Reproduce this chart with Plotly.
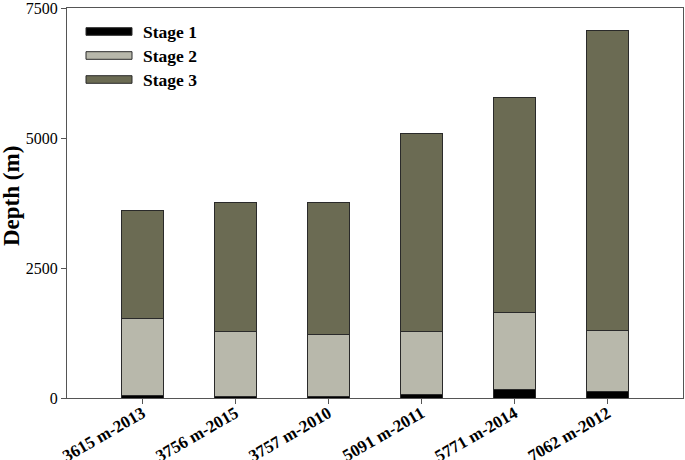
import plotly.graph_objects as go

categories = ["3615 m-2013", "3756 m-2015", "3757 m-2010", "5091 m-2011", "5771 m-2014", "7062 m-2012"]
stage1 = [45, 30, 35, 65, 160, 130]
stage2 = [1475, 1245, 1195, 1210, 1475, 1170]
stage3 = [2095, 2481, 2527, 3816, 4136, 5762]
series_names = ["Stage 1", "Stage 2", "Stage 3"]
colors = ["#000000", "#b8b8ab", "#6b6b53"]
y_ticks = [0, 2500, 5000, 7500]

FONT = "Liberation Serif, Times New Roman, serif"

fig = go.Figure()
for name, vals, col in zip(series_names, [stage1, stage2, stage3], colors):
    fig.add_trace(go.Bar(
        x=list(range(len(categories))), y=vals, name=name,
        marker=dict(color=col, line=dict(color="#2a2a2a", width=1)),
        width=0.45, showlegend=False,
    ))

# manual legend (wide swatches like the reference)
for i, (name, col) in enumerate(zip(series_names, colors)):
    yc = 1 - (31.5 + 24 * i - 8) / 390
    fig.add_shape(type="rect", xref="paper", yref="paper",
                  x0=(86 - 67) / 616, x1=(132 - 67) / 616,
                  y0=yc - 3.8 / 390, y1=yc + 3.8 / 390,
                  fillcolor=col, line=dict(color="#2a2a2a", width=1))
    fig.add_annotation(xref="paper", yref="paper", x=(141 - 67) / 616, y=yc,
                       text="<b>%s</b>" % name, showarrow=False,
                       xanchor="left", yanchor="middle",
                       font=dict(family=FONT, size=17.5, color="#000"))

# y axis title
fig.add_annotation(xref="paper", yref="paper", x=(12 - 67) / 616, y=(398 - 196) / 390,
                   text="<b>Depth (m)</b>", textangle=-90, showarrow=False,
                   xanchor="center", yanchor="middle",
                   font=dict(family=FONT, size=23, color="#000"))

fig.update_layout(
    barmode="stack",
    width=685, height=460,
    margin=dict(l=67, r=2, t=8, b=62),
    paper_bgcolor="white", plot_bgcolor="white",
    font=dict(family=FONT, color="#000"),
    xaxis=dict(
        range=[-0.81, 5.81], tickmode="array",
        tickvals=list(range(len(categories))),
        ticktext=["<b>%s</b>" % c for c in categories],
        tickangle=-30, tickfont=dict(family=FONT, size=17, color="#000"),
        ticks="outside", ticklen=5, tickcolor="#555",
        ticklabelstandoff=-7,
        showline=True, linecolor="#555", linewidth=1, mirror=True,
        showgrid=False, zeroline=False,
        automargin=False, ticklabeloverflow="allow",
    ),
    yaxis=dict(
        range=[0, 7500], tickvals=y_ticks,
        tickfont=dict(family=FONT, size=16, color="#000"),
        ticks="outside", ticklen=5, tickcolor="#555",
        showline=True, linecolor="#555", linewidth=1, mirror=True,
        showgrid=False, zeroline=False,
        automargin=False, ticklabeloverflow="allow",
    ),
)

fig.write_html("out.html", config={"displayModeBar": False},
               post_script="document.body.style.margin='0';")
